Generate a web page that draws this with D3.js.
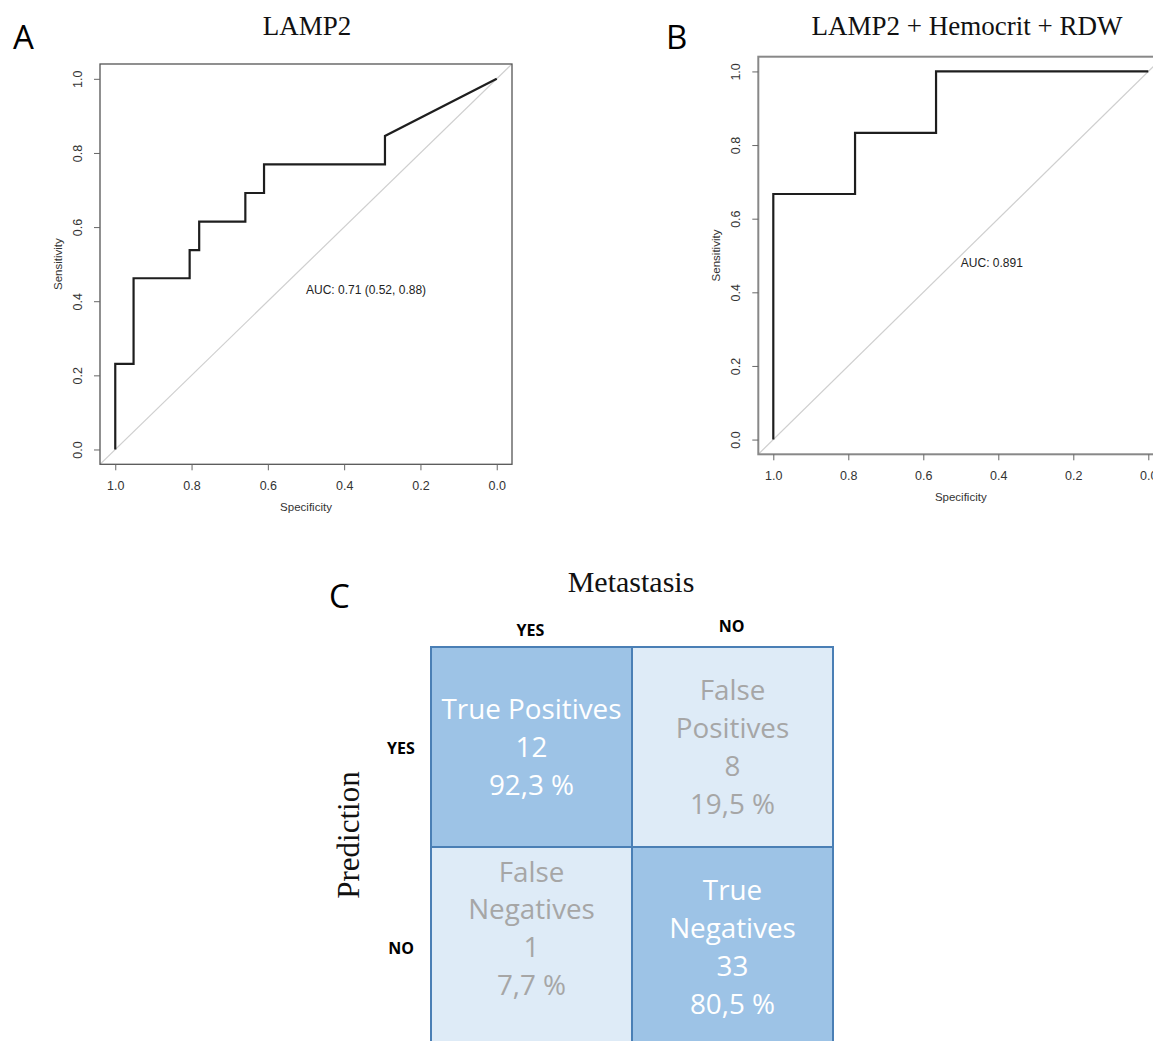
<!DOCTYPE html>
<html>
<head>
<meta charset="utf-8">
<script src="https://cdn.jsdelivr.net/npm/d3@7"></script>
<style>
body { margin: 0; background: #fff; }
svg { display: block; }
.tick text { font-family: "Liberation Sans", Arial, sans-serif; font-size: 12.5px; fill: #333; }
.tick line { stroke: #666; }
</style>
</head>
<body>
<svg width="1153" height="1041"></svg>
<script>
// ROC A: LAMP2 alone, vertices as (specificity, sensitivity)
const rocA_spec = [1, 1, 0.952, 0.952, 0.805, 0.805, 0.780, 0.780, 0.659, 0.659, 0.610, 0.610, 0.293, 0.293, 0]
const rocA_sens = [0, 0.231, 0.231, 0.462, 0.462, 0.538, 0.538, 0.615, 0.615, 0.692, 0.692, 0.769, 0.769, 0.846, 1]
const rocA_auc = "AUC: 0.71 (0.52, 0.88)"

// ROC B: LAMP2 + Hemocrit + RDW
const rocB_spec = [1, 1, 0.782, 0.782, 0.566, 0.566, 0]
const rocB_sens = [0, 0.667, 0.667, 0.833, 0.833, 1, 1]
const rocB_auc = "AUC: 0.891"

const axisTicks = [1.0, 0.8, 0.6, 0.4, 0.2, 0.0]

// C: confusion matrix
const matrixCols = ["YES", "NO"]
const matrixRows = ["YES", "NO"]
// row-major: [pred YES/actual YES, pred YES/actual NO, pred NO/actual YES, pred NO/actual NO]
const matrixNames = [["True Positives"], ["False", "Positives"], ["False", "Negatives"], ["True", "Negatives"]]
const matrixCounts = [12, 8, 1, 33]
const matrixPercents = ["92,3 %", "19,5 %", "7,7 %", "80,5 %"]
const matrixIsTrue = [true, false, false, true]

var svg = d3.select("svg")

function drawRoc(opt) {
	var g = svg.append("g")
	var x = d3.scaleLinear().domain([1.04, -0.04]).range([opt.left, opt.right])
	var y = d3.scaleLinear().domain([-0.04, 1.04]).range([opt.bottom, opt.top])

	var clipId = "clip-" + opt.letter
	g.append("clipPath").attr("id", clipId)
	 .append("rect")
	 .attr("x", opt.left).attr("y", opt.top)
	 .attr("width", opt.right - opt.left).attr("height", opt.bottom - opt.top)

	// chance diagonal, corner to corner
	g.append("line")
	 .attr("clip-path", "url(#" + clipId + ")")
	 .attr("x1", x(1.04)).attr("y1", y(-0.04))
	 .attr("x2", x(-0.04)).attr("y2", y(1.04))
	 .attr("stroke", "#cfcfcf").attr("stroke-width", 1.2)

	var pts = opt.spec.map(function(s, i) { return [s, opt.sens[i]] })
	var line = d3.line()
		.x(function(d) { return x(d[0]) })
		.y(function(d) { return y(d[1]) })
	g.append("path")
	 .datum(pts)
	 .attr("d", line)
	 .attr("fill", "none")
	 .attr("stroke", "#1e1e1e")
	 .attr("stroke-width", 2.2)

	// box
	g.append("rect")
	 .attr("x", opt.left).attr("y", opt.top)
	 .attr("width", opt.right - opt.left).attr("height", opt.bottom - opt.top)
	 .attr("fill", "none").attr("stroke", opt.boxColor).attr("stroke-width", opt.boxWidth)

	// x axis
	var xa = g.append("g")
	 .attr("transform", "translate(0," + opt.bottom + ")")
	 .call(d3.axisBottom(x).tickValues(axisTicks).tickSize(6).tickPadding(11).tickFormat(d3.format(".1f")))
	xa.select(".domain").remove()

	// y axis, labels parallel to axis
	var ya = g.append("g")
	 .attr("transform", "translate(" + opt.left + ",0)")
	 .call(d3.axisLeft(y).tickValues(axisTicks).tickSize(6).tickFormat(d3.format(".1f")))
	ya.select(".domain").remove()
	ya.selectAll(".tick text")
	 .attr("transform", "rotate(-90)")
	 .attr("x", 0).attr("y", -18).attr("dy", 0)
	 .attr("text-anchor", "middle")

	g.append("text")
	 .attr("x", (x(1) + x(0)) / 2 + 0).attr("y", opt.bottom + 47)
	 .attr("text-anchor", "middle")
	 .attr("font-family", "Liberation Sans, Arial, sans-serif").attr("font-size", 11.5).attr("fill", "#333")
	 .text("Specificity")
	g.append("text")
	 .attr("transform", "translate(" + (opt.left - 38) + "," + ((y(0) + y(1)) / 2) + ") rotate(-90)")
	 .attr("text-anchor", "middle")
	 .attr("font-family", "Liberation Sans, Arial, sans-serif").attr("font-size", 11.5).attr("fill", "#333")
	 .text("Sensitivity")

	g.append("text")
	 .attr("x", x(0.5)).attr("y", y(opt.aucY))
	 .attr("font-family", "Liberation Sans, Arial, sans-serif").attr("font-size", 12).attr("fill", "#222")
	 .text(opt.auc)

	g.append("text")
	 .attr("x", opt.titleX).attr("y", 35)
	 .attr("text-anchor", "middle")
	 .attr("font-family", "Liberation Serif, Times New Roman, serif").attr("font-size", 27).attr("fill", "#111")
	 .text(opt.title)

	g.append("text")
	 .attr("x", opt.letterX).attr("y", 49)
	 .attr("font-family", "Open Sans, sans-serif").attr("font-size", 33).attr("fill", "#000")
	 .text(opt.letter)
}

drawRoc({ letter: "A", letterX: 13, title: "LAMP2", titleX: 307,
	left: 100, right: 512, top: 64, bottom: 464.3,
	boxColor: "#555", boxWidth: 1.3,
	spec: rocA_spec, sens: rocA_sens, auc: rocA_auc, aucY: 0.42 })

drawRoc({ letter: "B", letterX: 666, title: "LAMP2 + Hemocrit + RDW", titleX: 967,
	left: 758.3, right: 1163.3, top: 56.7, bottom: 454.3,
	boxColor: "#888", boxWidth: 2,
	spec: rocB_spec, sens: rocB_sens, auc: rocB_auc, aucY: 0.47 })

// ---- confusion matrix ----
var cx = d3.scaleBand().domain(matrixCols).range([431, 833])
var cy = d3.scaleBand().domain(matrixRows).range([647, 1047])
var lineH = 37.7

var cells = []
matrixRows.forEach(function(r, i) {
	matrixCols.forEach(function(c, j) {
		var k = i * 2 + j
		var lines = matrixNames[k].concat([String(matrixCounts[k]), matrixPercents[k]])
		// false negatives cell has a trailing empty paragraph in the source
		if (k === 2) lines.push("")
		cells.push({ row: r, col: c, lines: lines, isTrue: matrixIsTrue[k] })
	})
})

var cg = svg.append("g")
var cell = cg.selectAll("g.cell").data(cells).enter().append("g").attr("class", "cell")
cell.append("rect")
 .attr("x", function(d) { return cx(d.col) })
 .attr("y", function(d) { return cy(d.row) })
 .attr("width", cx.bandwidth()).attr("height", cy.bandwidth())
 .attr("fill", function(d) { return d.isTrue ? "#9dc3e6" : "#deebf7" })
 .attr("stroke", "#4a7fb5").attr("stroke-width", 2)

cell.each(function(d) {
	var n = d.lines.length
	var midX = cx(d.col) + cx.bandwidth() / 2
	var midY = cy(d.row) + cy.bandwidth() / 2
	d3.select(this).selectAll("text").data(d.lines).enter().append("text")
	 .attr("x", midX)
	 .attr("y", function(t, i) { return midY + (i - (n - 1) / 2) * lineH + 10 })
	 .attr("text-anchor", "middle")
	 .attr("font-family", "Open Sans, sans-serif").attr("font-size", 27.8)
	 .attr("fill", d.isTrue ? "#ffffff" : "#a6a6a6")
	 .text(function(t) { return t })
})

cg.selectAll("text.colh").data(matrixCols).enter().append("text")
 .attr("class", "colh")
 .attr("x", function(d, i) { return cx(d) + cx.bandwidth() / 2 - 1 })
 .attr("y", function(d, i) { return i === 0 ? 636 : 632 })
 .attr("text-anchor", "middle")
 .attr("font-family", "Open Sans, sans-serif").attr("font-weight", "bold").attr("font-size", 16).attr("fill", "#000")
 .text(function(d) { return d })

cg.selectAll("text.rowh").data(matrixRows).enter().append("text")
 .attr("class", "rowh")
 .attr("x", 401)
 .attr("y", function(d) { return cy(d) + cy.bandwidth() / 2 + 7 })
 .attr("text-anchor", "middle")
 .attr("font-family", "Open Sans, sans-serif").attr("font-weight", "bold").attr("font-size", 16).attr("fill", "#000")
 .text(function(d) { return d })

cg.append("text")
 .attr("x", 631).attr("y", 592)
 .attr("text-anchor", "middle")
 .attr("font-family", "Liberation Serif, Times New Roman, serif").attr("font-size", 30).attr("fill", "#111")
 .text("Metastasis")

cg.append("text")
 .attr("transform", "translate(359,835) rotate(-90)")
 .attr("text-anchor", "middle")
 .attr("font-family", "Liberation Serif, Times New Roman, serif").attr("font-size", 31).attr("fill", "#111")
 .text("Prediction")

cg.append("text")
 .attr("x", 329).attr("y", 608)
 .attr("font-family", "Open Sans, sans-serif").attr("font-size", 33).attr("fill", "#000")
 .text("C")
</script>
</body>
</html>
